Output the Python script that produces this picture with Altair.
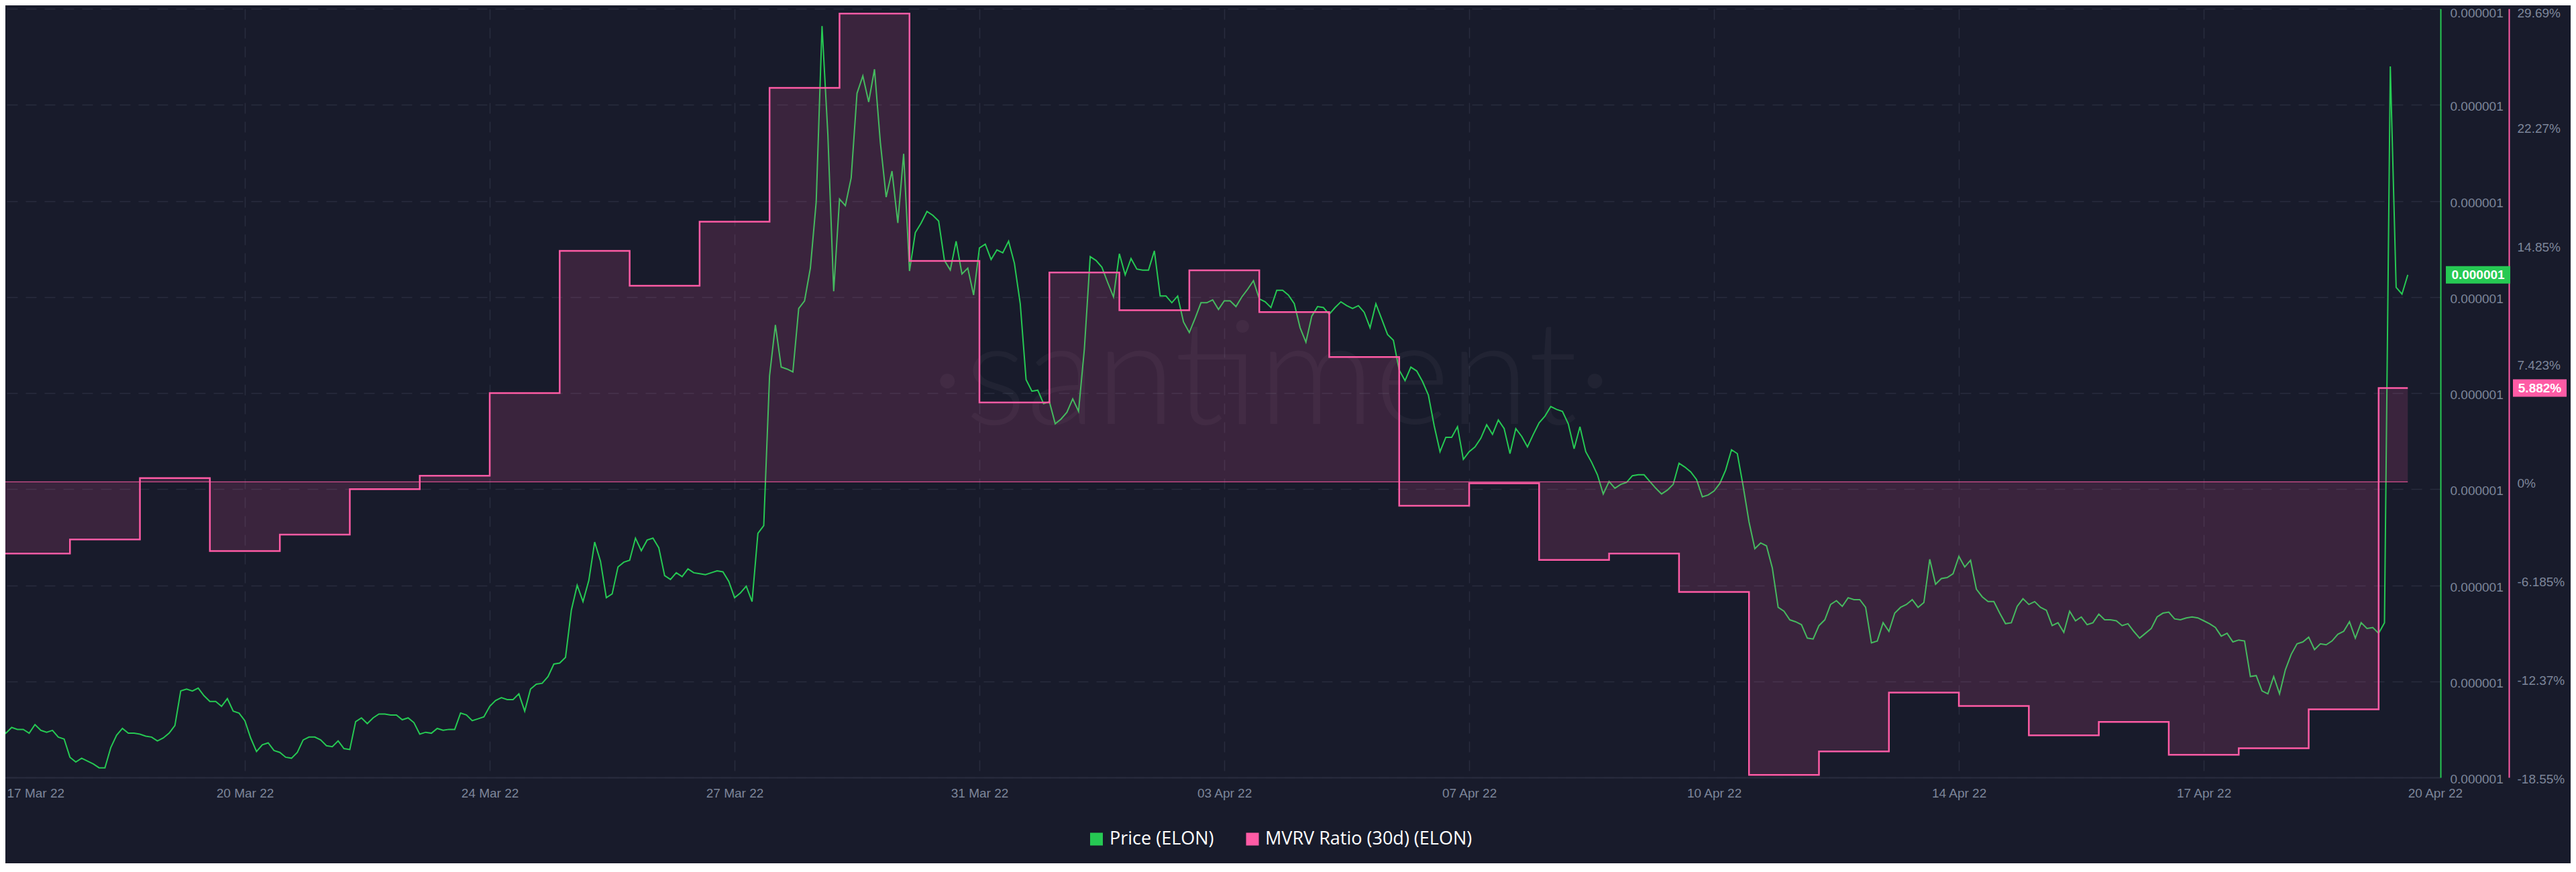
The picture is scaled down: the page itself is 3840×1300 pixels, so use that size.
import altair as alt
import pandas as pd

BG = "#181b2b"
GREEN = "#26c953"
PINK = "#ff5ba5"
GRID = "#282c3e"
LABEL = "#7d869a"

# ---- Price (ELON), 2-hourly samples from 17 Mar 2022 00:00 UTC, in 1e-9 USD ----
price_start = "2022-03-17 00:00"
price_nano_usd = [
    655, 646, 652, 650, 650, 646, 655, 649, 647, 649,
    642, 640, 621, 616, 620, 617, 614, 610, 610, 631,
    644, 651, 646, 646, 645, 643, 642, 638, 641, 646,
    654, 690, 692, 690, 693, 685, 679, 679, 674, 682,
    669, 667, 659, 641, 627, 634, 636, 628, 626, 621,
    620, 626, 639, 642, 642, 639, 633, 632, 638, 630,
    629, 658, 662, 656, 662, 666, 666, 665, 665, 660,
    662, 657, 645, 647, 646, 651, 649, 650, 650, 667,
    665, 659, 661, 663, 674, 680, 683, 681, 681, 687,
    669, 692, 697, 698, 705, 718, 719, 725, 774, 800,
    783, 805, 845, 825, 787, 791, 819, 824, 826, 849,
    836, 847, 849, 839, 810, 806, 813, 809, 817, 813,
    812, 811, 813, 815, 814, 804, 787, 792, 799, 783,
    854, 862, 1018, 1071, 1027, 1025, 1022, 1088, 1096, 1130,
    1199, 1382, 1269, 1106, 1202, 1195, 1224, 1312, 1330, 1303,
    1337, 1261, 1204, 1231, 1177, 1249, 1127, 1167, 1177, 1189,
    1185, 1179, 1138, 1128, 1158, 1124, 1130, 1102, 1151, 1155,
    1139, 1149, 1146, 1158, 1135, 1093, 1014, 1002, 1003, 989,
    991, 968, 973, 980, 994, 981, 1046, 1142, 1138, 1131,
    1115, 1100, 1145, 1123, 1140, 1129, 1128, 1128, 1148, 1101,
    1101, 1094, 1101, 1074, 1063, 1078, 1094, 1094, 1097, 1087,
    1096, 1096, 1090, 1100, 1108, 1117, 1098, 1095, 1089, 1107,
    1107, 1102, 1093, 1068, 1053, 1080, 1090, 1089, 1082, 1089,
    1095, 1091, 1088, 1091, 1084, 1068, 1093, 1077, 1061, 1055,
    1024, 1013, 1027, 1023, 1012, 998, 966, 939, 954, 954,
    965, 931, 939, 944, 953, 967, 957, 972, 963, 937,
    963, 955, 944, 957, 969, 976, 986, 983, 981, 968,
    942, 965, 939, 928, 915, 895, 908, 901, 905, 907,
    914, 915, 915, 908, 901, 895, 899, 905, 927, 923,
    918, 910, 892, 894, 898, 906, 920, 941, 937, 903,
    866, 838, 844, 841, 818, 777, 773, 764, 762, 759,
    745, 744, 758, 764, 780, 784, 778, 787, 785, 785,
    777, 740, 742, 761, 752, 771, 777, 780, 785, 777,
    782, 827, 801, 807, 808, 812, 830, 819, 826, 796,
    788, 783, 783, 771, 760, 761, 778, 786, 780, 783,
    777, 774, 758, 761, 751, 773, 763, 767, 759, 761,
    770, 764, 764, 763, 758, 760, 752, 745, 750, 755,
    767, 771, 772, 765, 764, 766, 767, 766, 763, 760,
    756, 747, 750, 741, 743, 742, 705, 706, 690, 687,
    705, 687, 712, 728, 739, 741, 746, 733, 739, 738,
    742, 749, 752, 762, 745, 761, 755, 756, 750, 761,
    1340, 1110, 1103, 1123,
]

# ---- MVRV Ratio (30d), daily from 17 Mar 2022, in percent ----
mvrv_start = "2022-03-17"
mvrv_pct = [
    -4.50, -3.62, 0.23, -4.34, -3.31, -0.46, 0.38, 5.57, 14.49, 12.30,
    16.33, 24.72, 29.38, 13.86, 4.98, 13.14, 10.77, 13.27, 10.65, 7.83,
    -1.50, -0.09, -4.90, -4.50, -6.91, -18.39, -16.92, -13.23, -14.07, -15.91,
    -15.07, -17.13, -16.72, -14.28, 5.882,
]

series_names = ["Price (ELON)", "MVRV Ratio (30d) (ELON)"]
x_tick_dates = [
    (2022, 3, 17, 0, 0), (2022, 3, 20, 12, 0), (2022, 3, 24, 0, 0), (2022, 3, 27, 12, 0),
    (2022, 3, 31, 0, 0), (2022, 4, 3, 12, 0), (2022, 4, 7, 0, 0), (2022, 4, 10, 12, 0),
    (2022, 4, 14, 0, 0), (2022, 4, 17, 12, 0), (2022, 4, 20, 19, 22),
]
x_domain = [(2022, 3, 17, 0, 0), (2022, 4, 20, 21, 13)]
price_ticks = [6e-7, 7e-7, 8e-7, 9e-7, 1.0e-6, 1.1e-6, 1.2e-6, 1.3e-6, 1.4e-6]
price_domain = [6e-7, 1.4e-6]
pct_ticks = [29.69, 22.27, 14.85, 7.423, 0, -6.185, -12.37, -18.55]
pct_domain = [-18.55, 29.69]

# ---- tables ----
p_dates = pd.date_range(price_start, periods=len(price_nano_usd), freq="2h")
price_df = pd.DataFrame({
    "date": [d.strftime("%Y-%m-%dT%H:%M:%SZ") for d in p_dates],
    "price": [v * 1e-9 for v in price_nano_usd],
})
m_dates = pd.date_range(mvrv_start, periods=len(mvrv_pct), freq="D")
mvrv_rows = [{"date": d.strftime("%Y-%m-%dT%H:%M:%SZ"), "mvrv": v} for d, v in zip(m_dates, mvrv_pct)]
# the last daily value holds until the last sample of the series
mvrv_rows.append({"date": price_df["date"].iloc[-1], "mvrv": mvrv_pct[-1]})
mvrv_df = pd.DataFrame(mvrv_rows)
last_price = price_df.tail(1)
last_mvrv = pd.DataFrame([mvrv_rows[-1]])


def dt(t):
    return alt.DateTime(year=t[0], month=t[1], date=t[2], hours=t[3], minutes=t[4], utc=True)


x_scale = alt.Scale(type="utc", domain=[dt(t) for t in x_domain])
x_axis = alt.Axis(
    values=[dt(t) for t in x_tick_dates], format="%d %b %y", title=None,
    grid=True, gridColor=GRID, gridDash=[16, 12], gridWidth=1.5,
    gridOpacity={"condition": {"test": "datum.value > utc(2022,3,20)", "value": 0}, "value": 1},
    ticks=False, domainColor=GRID, domainWidth=2,
    labelColor=LABEL, labelFont="Liberation Sans", labelFontSize=19,
    labelPadding=14, labelFlush=True, labelFlushOffset=-10, labelOverlap=False,
)
X = alt.X("date:T", scale=x_scale, axis=x_axis)

price_axis = alt.Axis(
    orient="right", values=price_ticks, labelExpr="format(datum.value, '.6f')", title=None,
    grid=True, gridColor=GRID, gridDash=[16, 12], gridWidth=1.5,
    ticks=False, domainColor=GREEN, domainWidth=2,
    labelColor=LABEL, labelFont="Liberation Sans", labelFontSize=19, labelPadding=14,
    labelFlush=False, labelOverlap=False, labelBaseline="middle",
    labelOffset={"condition": {"test": "datum.value > 1.35e-6", "value": 6.5}, "value": 2.5},
)
Y_price = alt.Y("price:Q", scale=alt.Scale(domain=price_domain, nice=False, zero=False), axis=price_axis)

pct_axis = alt.Axis(
    orient="right", offset=102, values=pct_ticks, labelExpr="datum.value + '%'", title=None,
    grid=False, ticks=False, domainColor=PINK, domainWidth=2,
    labelColor=LABEL, labelFont="Liberation Sans", labelFontSize=19, labelPadding=12,
    labelFlush=False, labelOverlap=False, labelBaseline="middle",
    labelOffset={"condition": {"test": "datum.value > 29", "value": 6.5}, "value": 2.5},
)
Y_pct = alt.Y("mvrv:Q", scale=alt.Scale(domain=pct_domain, nice=False, zero=False), axis=pct_axis)

# ---- price group ----
watermark = alt.Chart(pd.DataFrame({"t": ["\u00b7santiment\u00b7"]})).mark_text(
    font="Lato", fontSize=215, fontWeight=300, color="#ffffff", opacity=0.035,
    align="center", baseline="alphabetic",
).encode(x=alt.value(1895), y=alt.value(619), text="t:N")

price_line = alt.Chart(price_df).mark_line(color=GREEN, strokeWidth=2).encode(x=X, y=Y_price)
price_box = alt.Chart(last_price).mark_rule(color=GREEN, strokeWidth=26, strokeCap="butt").encode(
    x=alt.value(3646), x2=alt.value(3742), y=Y_price)
price_txt = alt.Chart(last_price).mark_text(
    color="#ffffff", font="Liberation Sans", fontSize=19, fontWeight="bold", align="center", baseline="middle"
).encode(x=alt.value(3694), y=Y_price, text=alt.Text("price:Q", format=".6f"))
price_group = alt.layer(watermark, price_line, price_box, price_txt)

# ---- MVRV group ----
mvrv_area = alt.Chart(mvrv_df).mark_area(color=PINK, opacity=0.15, interpolate="step-after").encode(
    x=X, y=Y_pct, y2=alt.datum(0))
mvrv_line = alt.Chart(mvrv_df).mark_line(color=PINK, strokeWidth=2.5, interpolate="step-after").encode(
    x=X, y=Y_pct)
zero_line = alt.Chart(mvrv_df).mark_rule(color=PINK, strokeWidth=1).encode(
    x=alt.X("min(date):T", scale=x_scale, axis=x_axis), x2="max(date):T", y=alt.datum(0))
mvrv_box = alt.Chart(last_mvrv).mark_rule(color=PINK, strokeWidth=26, strokeCap="butt").encode(
    x=alt.value(3746), x2=alt.value(3826), y=Y_pct)
mvrv_txt = alt.Chart(last_mvrv).transform_calculate(lbl="datum.mvrv + '%'").mark_text(
    color="#ffffff", font="Liberation Sans", fontSize=19, fontWeight="bold", align="center", baseline="middle"
).encode(x=alt.value(3786), y=Y_pct, text="lbl:N")
mvrv_group = alt.layer(mvrv_area, mvrv_line, zero_line, mvrv_box, mvrv_txt)

# ---- legend ----
def legend_item(name, color, sx, tx):
    d = pd.DataFrame({"label": [name]})
    sq = alt.Chart(d).mark_square(size=361, color=color, filled=True, opacity=1).encode(
        x=alt.value(sx), y=alt.value(1238))
    tt = alt.Chart(d).mark_text(font="Open Sans", fontSize=27, color="#ffffff", align="left",
                                baseline="middle").encode(x=alt.value(tx), y=alt.value(1238), text="label:N")
    return [sq, tt]

legend_layers = legend_item(series_names[0], GREEN, 1634.5, 1654) + legend_item(series_names[1], PINK, 1867, 1886)

chart = alt.layer(price_group, mvrv_group, *legend_layers).resolve_scale(y="independent").properties(
    width=3638, height=1146, background=BG,
    padding={"left": -8, "top": 5, "right": 194, "bottom": 128},
    autosize=alt.AutoSizeParams(type="none"),
).configure_view(stroke=None)

chart.save("out.html", embed_options={"renderer": "svg", "actions": False})
